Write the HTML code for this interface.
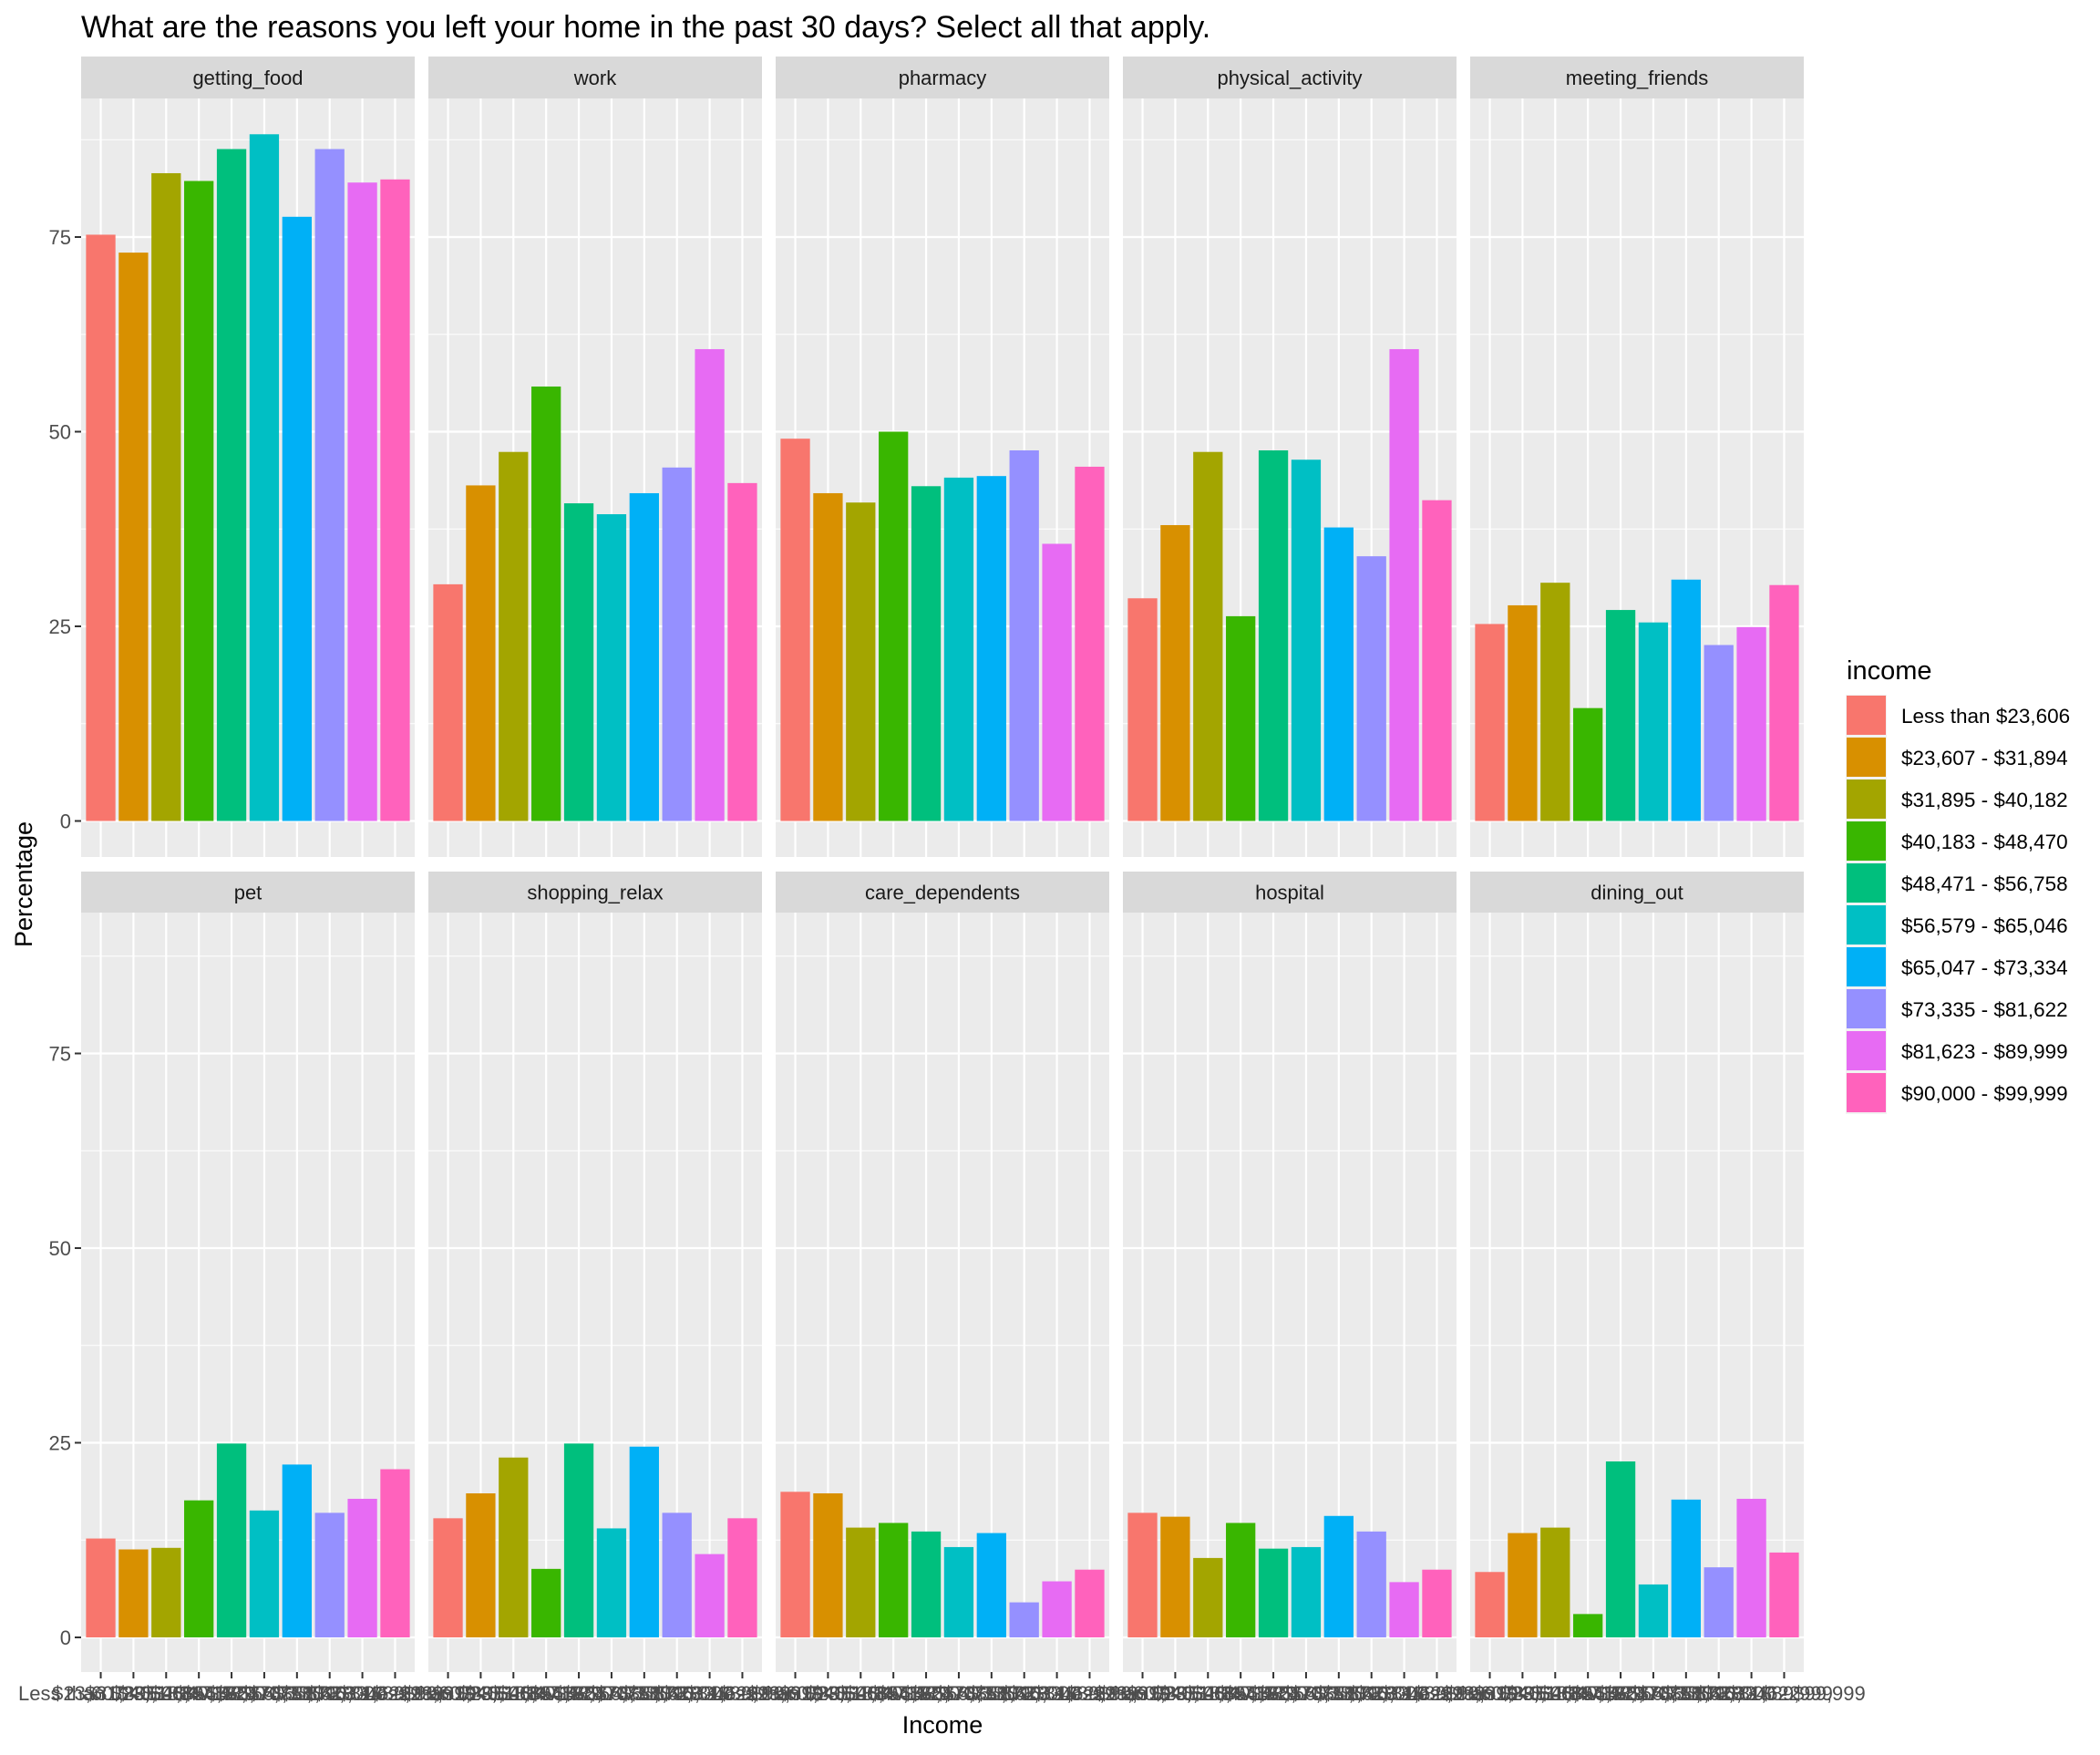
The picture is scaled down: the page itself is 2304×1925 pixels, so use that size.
<!DOCTYPE html>
<html><head><meta charset="utf-8">
<style>
html,body{margin:0;padding:0;background:#fff;}
svg text{font-family:"Liberation Sans",Arial,sans-serif;}
</style></head>
<body>
<svg id="chart" width="2304" height="1920" xmlns="http://www.w3.org/2000/svg"></svg>
<script>
const facets = ["getting_food","work","pharmacy","physical_activity","meeting_friends","pet","shopping_relax","care_dependents","hospital","dining_out"];
const incomeLevels = ["Less than $23,606","$23,607 - $31,894","$31,895 - $40,182","$40,183 - $48,470","$48,471 - $56,758","$56,579 - $65,046","$65,047 - $73,334","$73,335 - $81,622","$81,623 - $89,999","$90,000 - $99,999"];
const colors = ["#F8766D","#D89000","#A3A500","#39B600","#00BF7D","#00BFC4","#00B0F6","#9590FF","#E76BF3","#FF62BC"];
const gettingFood = [75.3,73,83.2,82.2,86.3,88.2,77.6,86.3,82,82.4];
const work = [30.4,43.1,47.4,55.8,40.8,39.4,42.1,45.4,60.6,43.4];
const pharmacy = [49.1,42.1,40.9,50,43,44.1,44.3,47.6,35.6,45.5];
const physicalActivity = [28.6,38,47.4,26.3,47.6,46.4,37.7,34,60.6,41.2];
const meetingFriends = [25.3,27.7,30.6,14.5,27.1,25.5,31,22.6,24.9,30.3];
const pet = [12.7,11.3,11.5,17.6,24.9,16.3,22.2,16,17.8,21.6];
const shoppingRelax = [15.3,18.5,23.1,8.8,24.9,14,24.5,16,10.7,15.3];
const careDependents = [18.7,18.5,14.1,14.7,13.6,11.6,13.4,4.5,7.2,8.7];
const hospital = [16,15.5,10.2,14.7,11.4,11.6,15.6,13.6,7.1,8.7];
const diningOut = [8.4,13.4,14.1,3,22.6,6.8,17.7,9,17.8,10.9];
const seriesValues = [gettingFood,work,pharmacy,physicalActivity,meetingFriends,pet,shoppingRelax,careDependents,hospital,diningOut];
const yTicks = [0,25,50,75];

const svg = document.getElementById('chart');
const NS = "http://www.w3.org/2000/svg";
function mk(tag, attrs, parent){
  const e = document.createElementNS(NS, tag);
  for (const k in attrs) e.setAttribute(k, attrs[k]);
  (parent||svg).appendChild(e);
  return e;
}
const panelX0 = 89, panelStep = 381, panelW = 366;
const rows = [{stripTop:62, plotTop:108, plotBot:940, zero:900.5},
              {stripTop:956, plotTop:1001, plotBot:1834, zero:1796}];
const unit = 8.54;
const xUnit = panelW / 10.2;

let t = mk('text',{x:89,y:41,'font-size':34,fill:'#000'});


t.textContent = "What are the reasons you left your home in the past 30 days? Select all that apply.";

facets.forEach((f, i) => {
  const r = rows[Math.floor(i/5)];
  const col = i % 5;
  const px = panelX0 + col*panelStep;
  const yS = v => r.zero - v*unit;
  const xS = k => px + (k + 0.6)*xUnit;
  const g = mk('g',{});
  
  
  const strip = mk('rect',{x:px,y:r.stripTop,width:panelW,height:r.plotTop-r.stripTop,fill:'#D9D9D9'},g);
  
  
  const st = mk('text',{x:px+panelW/2,y:(r.stripTop+r.plotTop)/2+8,'font-size':22,fill:'#1a1a1a','text-anchor':'middle'},g);
  
  
  st.textContent = f;
  mk('rect',{x:px,y:r.plotTop,width:panelW,height:r.plotBot-r.plotTop,fill:'#EBEBEB'},g);
  for (let v = -12.5; v <= 100; v += 25) {
    const y = yS(v);
    if (y > r.plotTop && y < r.plotBot) mk('line',{x1:px,x2:px+panelW,y1:y,y2:y,stroke:'#fff','stroke-width':1.1},g);
  }
  yTicks.forEach(v => {
    const y = yS(v);
    mk('line',{x1:px,x2:px+panelW,y1:y,y2:y,stroke:'#fff','stroke-width':2.2},g);
  });
  incomeLevels.forEach((lab, k) => {
    const x = xS(k);
    mk('line',{x1:x,x2:x,y1:r.plotTop,y2:r.plotBot,stroke:'#fff','stroke-width':2.2},g);
  });
  seriesValues[i].forEach((v, k) => {
    const b = mk('rect',{x:xS(k)-0.45*xUnit,y:yS(v),width:0.9*xUnit,height:v*unit,fill:colors[k]},g);
    
    
  });
  if (col === 0) {
    yTicks.forEach(v => {
      const y = yS(v);
      mk('line',{x1:82,x2:89,y1:y,y2:y,stroke:'#333','stroke-width':2},g);
      const yl = mk('text',{x:78,y:y+8,'font-size':22,fill:'#4d4d4d','text-anchor':'end'},g);
      
      
      yl.textContent = v;
    });
  }
  if (i >= 5) {
    incomeLevels.forEach((lab, k) => {
      const x = xS(k);
      mk('line',{x1:x,x2:x,y1:r.plotBot,y2:r.plotBot+7,stroke:'#333','stroke-width':2},g);
      const xl = mk('text',{x:x,y:1865,'font-size':22,fill:'#4d4d4d','text-anchor':'middle'},g);
      
      
      xl.textContent = lab;
    });
  }
});

t = mk('text',{x:35,y:970,'font-size':27,fill:'#000','text-anchor':'middle',transform:'rotate(-90 35 970)'});


t.textContent = "Percentage";
t = mk('text',{x:1034,y:1901,'font-size':27,fill:'#000','text-anchor':'middle'});


t.textContent = "Income";

t = mk('text',{x:2026,y:745,'font-size':29,fill:'#000'});


t.textContent = "income";
incomeLevels.forEach((lab, k) => {
  const y = 763 + k*46;
  const lg = mk('g',{});
  
  
  mk('rect',{x:2025,y:y-1,width:45,height:46,fill:'#F2F2F2'},lg);
  mk('rect',{x:2026,y:y,width:43,height:43,fill:colors[k]},lg);
  const lt = mk('text',{x:2086,y:y+30,'font-size':22.5,fill:'#000'},lg);
  lt.textContent = lab;
});
</script>
</body></html>
